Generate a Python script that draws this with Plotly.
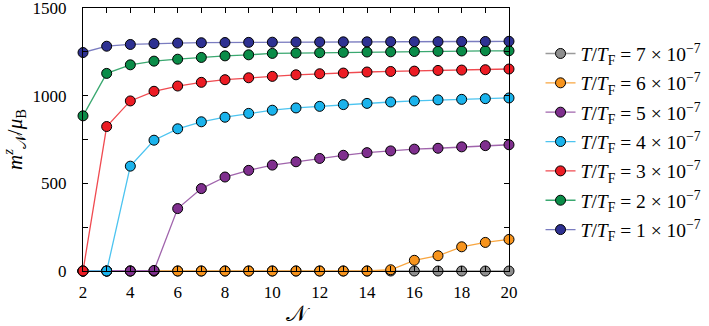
import plotly.graph_objects as go

N = list(range(2, 21))

labels = [
    "<i>T</i>/<i>T</i><sub>F</sub> = 7 × 10<sup>−7</sup>",
    "<i>T</i>/<i>T</i><sub>F</sub> = 6 × 10<sup>−7</sup>",
    "<i>T</i>/<i>T</i><sub>F</sub> = 5 × 10<sup>−7</sup>",
    "<i>T</i>/<i>T</i><sub>F</sub> = 4 × 10<sup>−7</sup>",
    "<i>T</i>/<i>T</i><sub>F</sub> = 3 × 10<sup>−7</sup>",
    "<i>T</i>/<i>T</i><sub>F</sub> = 2 × 10<sup>−7</sup>",
    "<i>T</i>/<i>T</i><sub>F</sub> = 1 × 10<sup>−7</sup>",
]

m_T7 = [0] * 19
m_T6 = [0, 0, 0, 0, 0, 0, 0, 0, 0, 0, 0, 0, 0, 7, 61, 87, 138, 163, 180]
m_T5 = [0, 0, 0, 3, 356, 470, 536, 574, 604, 623, 642, 660, 675, 685, 695, 700, 708, 715, 720]
m_T4 = [0, 0, 598, 746, 811, 851, 877, 899, 917, 930, 939, 949, 956, 964, 970, 976, 979, 983, 987]
m_T3 = [0, 824, 970, 1025, 1055, 1076, 1091, 1102, 1110, 1119, 1125, 1129, 1135, 1138, 1140, 1144, 1146, 1148, 1152]
m_T2 = [885, 1127, 1176, 1197, 1208, 1218, 1227, 1233, 1241, 1243, 1245, 1247, 1249, 1250, 1252, 1253, 1255, 1256, 1256]
m_T1 = [1246, 1282, 1292, 1297, 1300, 1302, 1303, 1304, 1305, 1306, 1306, 1307, 1307, 1308, 1308, 1308, 1309, 1309, 1310]

series = [m_T7, m_T6, m_T5, m_T4, m_T3, m_T2, m_T1]
marker_colors = ["#8e8e8e", "#f7941d", "#7f2f8e", "#1ab3ec", "#ec1c24", "#0a8c48", "#2e3192"]
line_colors = ["#9a9a9a", "#f8a640", "#a064ac", "#4cc4f0", "#f04a50", "#3aa870", "#7a7cc0"]

fig = go.Figure()
for i, (lab, ys) in enumerate(zip(labels, series)):
    fig.add_trace(go.Scatter(
        x=N, y=ys, name=lab, mode="lines+markers",
        legendgroup=f"g{i}",
        line=dict(color=line_colors[i], width=1.3),
        marker=dict(size=10, color=marker_colors[i], line=dict(color="black", width=1)),
        cliponaxis=False,
    ))

serif = "Liberation Serif"
fig.update_layout(
    width=709, height=326,
    margin=dict(l=83, r=200, t=8, b=55, autoexpand=False),
    paper_bgcolor="white", plot_bgcolor="white",
    font=dict(family=serif, size=16, color="black"),
    showlegend=True,
    legend=dict(x=1.074, y=0.90, xanchor="left", yanchor="top",
                font=dict(family=serif, size=19.5), tracegroupgap=1,
                bgcolor="rgba(0,0,0,0)"),
    xaxis=dict(range=[2, 20], tickmode="linear", tick0=2, dtick=2,
               ticks="inside", ticklen=5, tickcolor="black",
               minor=dict(dtick=1, ticks="inside", ticklen=5, tickcolor="black"),
               showline=True, linecolor="black", linewidth=1, mirror="allticks",
               showgrid=False, zeroline=False, automargin=False,
               ticklabelstandoff=6, ticklabeloverflow="allow",
               tickfont=dict(family=serif, size=17),
               title=dict(text="𝒩", font=dict(family=serif, size=22), standoff=14)),
    yaxis=dict(range=[-0.01, 1500.01], tickmode="linear", tick0=0, dtick=500,
               ticks="inside", ticklen=5, tickcolor="black",
               minor=dict(dtick=250, ticks="inside", ticklen=5, tickcolor="black"),
               showline=True, linecolor="black", linewidth=1, mirror="allticks",
               showgrid=False, zeroline=False, automargin=False,
               ticklabelstandoff=12, ticklabeloverflow="allow",
               tickfont=dict(family=serif, size=17),
               title=dict(text="<i>m</i><sup><i>z</i></sup><sub>𝒩</sub>/<i>μ</i><sub>B</sub>",
                          font=dict(family=serif, size=21), standoff=9)),
)

fig.write_html("out.html", config={"displayModeBar": False},
               post_script="document.body.style.margin='0';document.body.style.padding='0';")
